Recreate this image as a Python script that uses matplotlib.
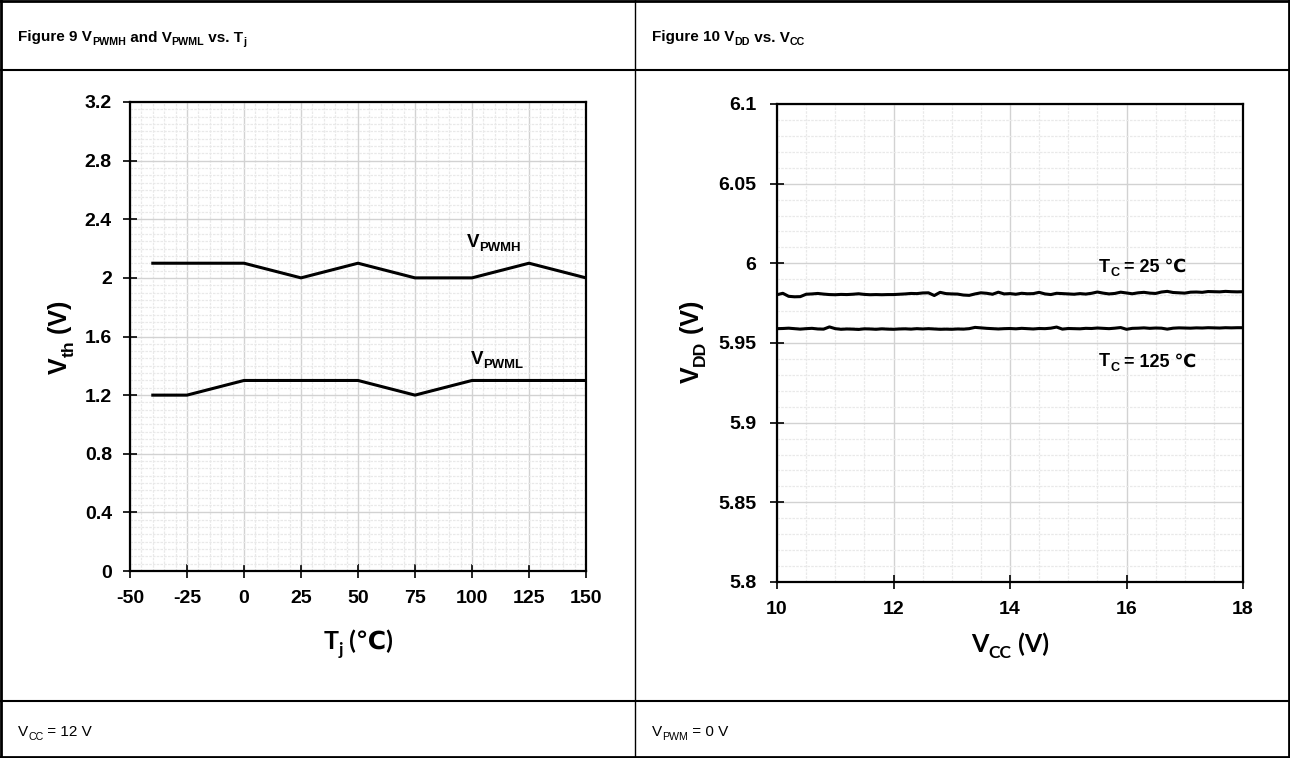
import matplotlib
matplotlib.use('Agg')
import matplotlib.pyplot as plt
from matplotlib.lines import Line2D

# ---- Figure 9 data: V_PWMH / V_PWML vs Tj ----
tj = [-40, -25, 0, 25, 50, 75, 100, 125, 150]
v_pwmh = [2.1, 2.1, 2.1, 2.0, 2.1, 2.0, 2.0, 2.1, 2.0]
v_pwml = [1.2, 1.2, 1.3, 1.3, 1.3, 1.2, 1.3, 1.3, 1.3]
tj_ticks = [-50, -25, 0, 25, 50, 75, 100, 125, 150]
tj_labels = ['-50', '-25', '0', '25', '50', '75', '100', '125', '150']
vth_ticks = [0, 0.4, 0.8, 1.2, 1.6, 2.0, 2.4, 2.8, 3.2]
vth_labels = ['0', '0.4', '0.8', '1.2', '1.6', '2', '2.4', '2.8', '3.2']

# ---- Figure 10 data: V_DD vs V_CC ----
vcc = [10.0, 10.1, 10.2, 10.3, 10.4, 10.5, 10.6, 10.7, 10.8, 10.9,
       11.0, 11.1, 11.2, 11.3, 11.4, 11.5, 11.6, 11.7, 11.8, 11.9,
       12.0, 12.1, 12.2, 12.3, 12.4, 12.5, 12.6, 12.7, 12.8, 12.9,
       13.0, 13.1, 13.2, 13.3, 13.4, 13.5, 13.6, 13.7, 13.8, 13.9,
       14.0, 14.1, 14.2, 14.3, 14.4, 14.5, 14.6, 14.7, 14.8, 14.9,
       15.0, 15.1, 15.2, 15.3, 15.4, 15.5, 15.6, 15.7, 15.8, 15.9,
       16.0, 16.1, 16.2, 16.3, 16.4, 16.5, 16.6, 16.7, 16.8, 16.9,
       17.0, 17.1, 17.2, 17.3, 17.4, 17.5, 17.6, 17.7, 17.8, 17.9, 18.0]
vdd_25c = [5.9803, 5.9812, 5.9793, 5.9790, 5.9791, 5.9806, 5.9808, 5.9811, 5.9807, 5.9804,
           5.9803, 5.9805, 5.9804, 5.9806, 5.9809, 5.9805, 5.9803, 5.9804, 5.9803, 5.9804,
           5.9804, 5.9806, 5.9808, 5.9811, 5.9810, 5.9814, 5.9815, 5.9798, 5.9818, 5.9810,
           5.9808, 5.9807, 5.9801, 5.9799, 5.9808, 5.9815, 5.9812, 5.9806, 5.9819, 5.9808,
           5.9810, 5.9806, 5.9812, 5.9809, 5.9810, 5.9818, 5.9808, 5.9804, 5.9812, 5.9810,
           5.9808, 5.9806, 5.9810, 5.9807, 5.9812, 5.9820, 5.9813, 5.9808, 5.9811, 5.9819,
           5.9814, 5.9809, 5.9815, 5.9818, 5.9813, 5.9811, 5.9820, 5.9824, 5.9817, 5.9815,
           5.9813, 5.9819, 5.9820, 5.9818, 5.9823, 5.9822, 5.9821, 5.9824, 5.9822, 5.9821, 5.9822]
vdd_125c = [5.9590, 5.9591, 5.9593, 5.9590, 5.9587, 5.9590, 5.9592, 5.9588, 5.9587, 5.9601,
            5.9590, 5.9586, 5.9588, 5.9587, 5.9585, 5.9589, 5.9588, 5.9586, 5.9589, 5.9587,
            5.9586, 5.9588, 5.9589, 5.9587, 5.9590, 5.9588, 5.9590, 5.9588, 5.9586, 5.9587,
            5.9586, 5.9588, 5.9587, 5.9590, 5.9598, 5.9595, 5.9592, 5.9590, 5.9588, 5.9590,
            5.9591, 5.9589, 5.9592, 5.9590, 5.9588, 5.9591, 5.9590, 5.9593, 5.9600, 5.9587,
            5.9591, 5.9590, 5.9589, 5.9592, 5.9591, 5.9594, 5.9592, 5.9590, 5.9593, 5.9597,
            5.9586, 5.9592, 5.9593, 5.9595, 5.9592, 5.9594, 5.9593, 5.9587, 5.9593, 5.9595,
            5.9594, 5.9593, 5.9595, 5.9594, 5.9596, 5.9595, 5.9594, 5.9596, 5.9595, 5.9596, 5.9596]
vcc_ticks = [10, 12, 14, 16, 18]
vcc_labels = ['10', '12', '14', '16', '18']
vdd_ticks = [5.8, 5.85, 5.9, 5.95, 6.0, 6.05, 6.1]
vdd_labels = ['5.8', '5.85', '5.9', '5.95', '6', '6.05', '6.1']

W, H = 1290, 758
ARIAL = ['Liberation Sans', 'DejaVu Sans']
LABEL = ['Lato', 'DejaVu Sans']

fig = plt.figure(figsize=(W / 100, H / 100), dpi=100)
fig.patch.set_facecolor('white')
renderer = fig.canvas.get_renderer()


def rich(x, y, parts, size, weight='bold', family=ARIAL, rotation=0, ha='left'):
    '''draw text pieces (text, is_sub) chained; x,y image pixels, y = centre of caps'''
    px = size * 100 / 72.0
    objs = []
    for s, sub in parts:
        fs = size * 0.7 if sub else size
        t = fig.text(0, 0, s, fontsize=fs, fontweight=weight, family=family,
                     ha='left', va='baseline', rotation=rotation,
                     rotation_mode='anchor', transform=None)
        objs.append((t, sub))
    adv = []
    for t, sub in objs:
        bb = t.get_window_extent(renderer)
        adv.append(bb.height if rotation else bb.width)
    total = sum(adv)
    if rotation:
        base = x + 0.36 * px
        cur = (H - y) - total / 2
        for (t, sub), a in zip(objs, adv):
            t.set_position((base + (0.25 * px if sub else 0), cur))
            cur += a
    else:
        base = (H - y) - 0.36 * px
        cur = x - (total / 2 if ha == 'center' else 0)
        for (t, sub), a in zip(objs, adv):
            t.set_position((cur, base - (0.25 * px if sub else 0)))
            cur += a


def hline(y, x0, x1, lw=1.5):
    fig.add_artist(Line2D([x0 / W, x1 / W], [1 - y / H, 1 - y / H],
                          transform=fig.transFigure, color='black', lw=lw))


def vline(x, y0, y1, lw=1.5):
    fig.add_artist(Line2D([x / W, x / W], [1 - y0 / H, 1 - y1 / H],
                          transform=fig.transFigure, color='black', lw=lw))


def style_axes(ax, xt, xl, yt, yl, xminor, yminor, ypad):
    ax.set_xticks(xt)
    ax.set_xticklabels(xl)
    ax.set_yticks(yt)
    ax.set_yticklabels(yl)
    ax.set_xticks(xminor, minor=True)
    ax.set_yticks(yminor, minor=True)
    ax.grid(which='minor', color='#e9e9e9', lw=0.9, ls=(0, (2, 1)))
    ax.grid(which='major', color='#d2d2d2', lw=1.0)
    ax.set_axisbelow(True)
    ax.tick_params(which='minor', length=0)
    ax.tick_params(which='major', direction='inout', length=10, width=1.2,
                   labelsize=14)
    ax.tick_params(axis='x', pad=9)
    ax.tick_params(axis='y', pad=ypad)
    for lbl in ax.get_xticklabels() + ax.get_yticklabels():
        lbl.set_fontfamily(ARIAL)
        lbl.set_fontweight('bold')
    for sp in ax.spines.values():
        sp.set_linewidth(1.6)
        sp.set_color('black')


# ---- left chart ----
ax1 = fig.add_axes([130 / W, 1 - 571 / H, 456 / W, 469 / H])
ax1.plot(tj, v_pwmh, color='black', lw=2.2, zorder=3)
ax1.plot(tj, v_pwml, color='black', lw=2.2, zorder=3)
ax1.set_xlim(-50, 150)
ax1.set_ylim(0, 3.2)
style_axes(ax1, tj_ticks, tj_labels, vth_ticks, vth_labels,
           [v for v in range(-50, 151, 5)], [i * 0.05 for i in range(65)], 8)

# ---- right chart ----
ax2 = fig.add_axes([777 / W, 1 - 582 / H, 466 / W, 478 / H])
ax2.plot(vcc, vdd_25c, color='black', lw=2.2, zorder=3)
ax2.plot(vcc, vdd_125c, color='black', lw=2.2, zorder=3)
ax2.set_xlim(10, 18)
ax2.set_ylim(5.8, 6.1)
style_axes(ax2, vcc_ticks, vcc_labels, vdd_ticks, vdd_labels,
           [10 + i * 0.5 for i in range(17)], [5.8 + i * 0.01 for i in range(31)], 10)

# ---- in-plot labels ----
rich(467, 240, [('V', False), ('PWMH', True)], 13.5)
rich(471, 357, [('V', False), ('PWML', True)], 13.5)
rich(1099, 265, [('T', False), ('C', True), (' = 25 \u2103', False)], 13)
rich(1099, 360, [('T', False), ('C', True), (' = 125 \u2103', False)], 13)

# ---- axis titles ----
rich(58, 337, [('V', False), ('th', True), (' (V)', False)], 18, rotation=90)
rich(358, 640, [('T', False), ('j', True), (' (\u2103)', False)], 18, family=LABEL, ha='center')
rich(690, 342, [('V', False), ('DD', True), (' (V)', False)], 18, rotation=90)
rich(1010, 643, [('V', False), ('CC', True), (' (V)', False)], 18, family=LABEL, ha='center')

# ---- table frame ----
hline(1, 0, W, lw=2)
hline(69.5, 0, W, lw=1.5)
hline(701, 0, W, lw=1.5)
hline(757, 0, W, lw=2)
vline(1, 0, H, lw=2)
vline(1289, 0, H, lw=2)
vline(635, 0, H, lw=1)

# ---- header / footer text ----
rich(18, 36, [('Figure 9 V', False), ('PWMH', True), (' and V', False), ('PWML', True),
              (' vs. T', False), ('j', True)], 11)
rich(652, 36, [('Figure 10 V', False), ('DD', True), (' vs. V', False), ('CC', True)], 11)
rich(18, 731, [('V', False), ('CC', True), (' = 12 V', False)], 11, weight='normal')
rich(652, 731, [('V', False), ('PWM', True), (' = 0 V', False)], 11, weight='normal')

fig.savefig('out.png', dpi=100, facecolor='white')
